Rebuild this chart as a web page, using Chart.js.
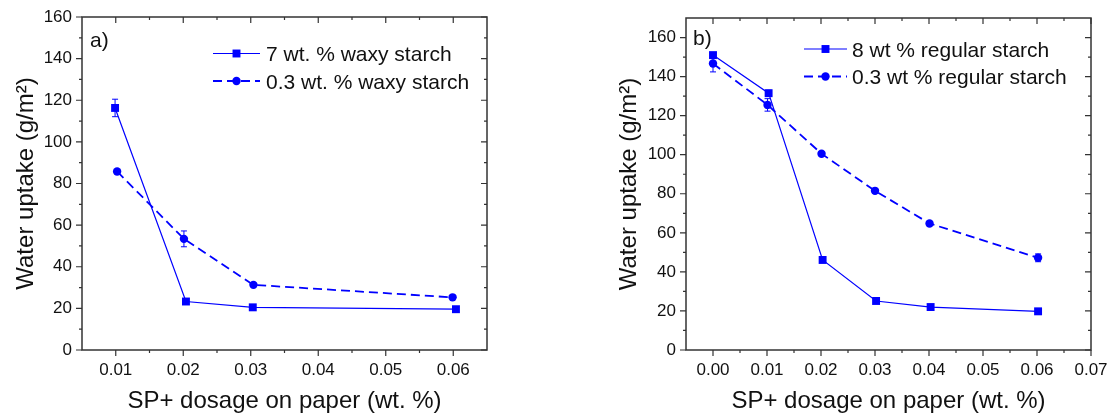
<!DOCTYPE html>
<html>
<head>
<meta charset="utf-8">
<title>Water uptake vs SP+ dosage</title>
<script src="https://cdn.jsdelivr.net/npm/chart.js@4.4.1/dist/chart.umd.min.js"></script>
<style>
    html, body { margin: 0; padding: 0; background: #fff; overflow: hidden; }
    #wrap { position: relative; width: 1109px; height: 416px; }
    .panel { position: absolute; top: 0; height: 416px; }
    #boxA { left: 0; width: 555px; }
    #boxB { left: 555px; width: 554px; }
</style>
</head>
<body>
<div id="wrap">
    <div class="panel" id="boxA"><canvas id="chartA"></canvas></div>
    <div class="panel" id="boxB"><canvas id="chartB"></canvas></div>
</div>
<script>
// panel a) waxy starch
const waxyDosageHigh = [0.0099, 0.0204, 0.0303, 0.0604];
const waxyUptakeHigh = [116.3, 23.3, 20.5, 19.6];
const waxyErrHigh = [4.2, 0.8, 0.6, 0.6];
const waxyDosageLow = [0.0102, 0.0201, 0.0304, 0.0599];
const waxyUptakeLow = [85.8, 53.4, 31.3, 25.3];
const waxyErrLow = [1.0, 3.8, 0.8, 0.8];

// panel b) regular starch
const regDosageHigh = [0.0, 0.0103, 0.0203, 0.0302, 0.0403, 0.0602];
const regUptakeHigh = [151.0, 131.5, 46.1, 25.1, 22.0, 19.8];
const regErrHigh = [1.0, 1.5, 0.8, 0.6, 0.6, 0.6];
const regDosageLow = [0.0, 0.0101, 0.0201, 0.0300, 0.0401, 0.0602];
const regUptakeLow = [146.7, 125.5, 100.5, 81.5, 64.8, 47.2];
const regErrLow = [4.3, 3.2, 1.0, 1.0, 1.0, 2.0];

// tick labels
const xTicksA = [0.01, 0.02, 0.03, 0.04, 0.05, 0.06];
const xTicksB = [0.00, 0.01, 0.02, 0.03, 0.04, 0.05, 0.06, 0.07];
const yTicks = [0, 20, 40, 60, 80, 100, 120, 140, 160];

const FONT = "'Liberation Sans', Arial, Helvetica, sans-serif";
const BLUE = '#0000ff';
const INK = '#111111';
const AXIS = '#333333';

Chart.defaults.font.family = FONT;
Chart.defaults.color = INK;

const toPoints = (xs, ys) => xs.map((x, i) => ({ x, y: ys[i] }));

const minorValues = (majors, min, max) => {
    const step = majors[1] - majors[0];
    const out = [];
    for (let v = majors[0] - step / 2; v <= majors[majors.length - 1] + step / 2 + 1e-9; v += step) {
        if (v > min + 1e-9 && v < max - 1e-9) out.push(v);
    }
    return out;
};

// error bars under the markers
const errorBarPlugin = {
    id: 'errorBars',
    beforeDatasetsDraw(chart) {
        const { ctx, scales: { x, y } } = chart;
        chart.data.datasets.forEach((ds) => {
            if (!ds.errors) return;
            ctx.save();
            ctx.strokeStyle = ds.borderColor;
            ctx.lineWidth = 1;
            ds.data.forEach((p, j) => {
                const e = ds.errors[j];
                if (!e) return;
                const px = x.getPixelForValue(p.x);
                const top = y.getPixelForValue(p.y + e);
                const bot = y.getPixelForValue(p.y - e);
                ctx.beginPath();
                ctx.moveTo(px, top); ctx.lineTo(px, bot);
                ctx.moveTo(px - 3, top); ctx.lineTo(px + 3, top);
                ctx.moveTo(px - 3, bot); ctx.lineTo(px + 3, bot);
                ctx.stroke();
            });
            ctx.restore();
        });
    },
};

// box frame with Origin-style ticks (out on bottom/left, in on top/right)
const framePlugin = {
    id: 'originFrame',
    afterDraw(chart) {
        const { ctx, chartArea: a, scales: { x, y } } = chart;
        ctx.save();
        ctx.strokeStyle = AXIS;
        ctx.lineWidth = 1.2;
        const xMaj = x.ticks.map((t) => t.value);
        const yMaj = y.ticks.map((t) => t.value);
        const xMin = minorValues(xMaj, x.min, x.max);
        const yMin = minorValues(yMaj, y.min, y.max);
        ctx.beginPath();
        const tickX = (vals, len) => vals.forEach((v) => {
            const px = x.getPixelForValue(v);
            ctx.moveTo(px, a.bottom); ctx.lineTo(px, a.bottom + len);
            ctx.moveTo(px, a.top); ctx.lineTo(px, a.top + len);
        });
        const tickY = (vals, len) => vals.forEach((v) => {
            const py = y.getPixelForValue(v);
            ctx.moveTo(a.left, py); ctx.lineTo(a.left - len, py);
            ctx.moveTo(a.right, py); ctx.lineTo(a.right - len, py);
        });
        tickX(xMaj, 6); tickX(xMin, 3);
        tickY(yMaj, 6); tickY(yMin, 3);
        ctx.stroke();
        ctx.lineWidth = 1.5;
        ctx.strokeRect(a.left, a.top, a.right - a.left, a.bottom - a.top);
        ctx.restore();
    },
};

// legend with line + marker, and panel letter
const legendPlugin = {
    id: 'lineLegend',
    afterDraw(chart, args, opts) {
        const { ctx, chartArea: a } = chart;
        ctx.save();
        ctx.font = `21px ${FONT}`;
        ctx.fillStyle = INK;
        ctx.textBaseline = 'alphabetic';
        ctx.fillText(opts.panel, a.left + opts.panelX, a.top + opts.panelY);
        chart.data.datasets.forEach((ds, i) => {
            const cy = a.top + opts.y + i * opts.rowGap;
            const x0 = a.left + opts.lineX0;
            const x1 = a.left + opts.lineX1;
            ctx.strokeStyle = ds.borderColor;
            ctx.lineWidth = ds.borderWidth;
            ctx.setLineDash(ds.borderDash || []);
            ctx.beginPath();
            ctx.moveTo(x0, cy); ctx.lineTo(x1, cy);
            ctx.stroke();
            ctx.setLineDash([]);
            const mx = (x0 + x1) / 2;
            ctx.fillStyle = ds.pointBackgroundColor;
            ctx.beginPath();
            if (ds.pointStyle === 'rect') {
                const s = Math.SQRT1_2 * ds.pointRadius;
                ctx.rect(mx - s, cy - s, 2 * s, 2 * s);
            } else {
                ctx.arc(mx, cy, ds.pointRadius, 0, Math.PI * 2);
            }
            ctx.fill();
            ctx.fillStyle = INK;
            ctx.fillText(ds.label, a.left + opts.textX, cy + 7.5);
        });
        ctx.restore();
    },
};

const solidSet = (label, xs, ys, errs) => ({
    label,
    data: toPoints(xs, ys),
    errors: errs,
    borderColor: BLUE,
    borderWidth: 1.2,
    pointStyle: 'rect',
    pointRadius: 5.6,
    pointBackgroundColor: BLUE,
    pointBorderWidth: 0,
    tension: 0,
});

const dashedSet = (label, xs, ys, errs) => ({
    label,
    data: toPoints(xs, ys),
    errors: errs,
    borderColor: BLUE,
    borderWidth: 1.8,
    borderDash: [9, 5],
    pointStyle: 'circle',
    pointRadius: 4.2,
    pointBackgroundColor: BLUE,
    pointBorderWidth: 0,
    tension: 0,
});

const buildOptions = ({ xMin, xMax, yMax, xTicks, yWidth, yTitlePad, padding, legend }) => ({
    responsive: true,
    maintainAspectRatio: false,
    animation: false,
    layout: { padding },
    plugins: {
        legend: { display: false },
        tooltip: { enabled: false },
        lineLegend: legend,
    },
    scales: {
        x: {
            type: 'linear',
            min: xMin,
            max: xMax,
            afterBuildTicks: (s) => { s.ticks = xTicks.map((v) => ({ value: v })); },
            afterFit: (s) => { s.height = 66; s.paddingLeft = 0; s.paddingRight = 0; },
            grid: { display: false, drawTicks: false },
            border: { display: false },
            ticks: {
                color: INK,
                font: { size: 17 },
                padding: 10,
                maxRotation: 0,
                autoSkip: false,
                callback: (v) => Number(v).toFixed(2),
            },
            title: {
                display: true,
                text: 'SP+ dosage on paper (wt. %)',
                color: INK,
                font: { size: 24 },
                padding: { top: 0, bottom: 0 },
            },
        },
        y: {
            type: 'linear',
            min: 0,
            max: yMax,
            afterBuildTicks: (s) => { s.ticks = yTicks.map((v) => ({ value: v })); },
            afterFit: (s) => { s.width = yWidth; s.paddingTop = 0; s.paddingBottom = 0; },
            grid: { display: false, drawTicks: false },
            border: { display: false },
            ticks: {
                color: INK,
                font: { size: 17 },
                padding: 10,
            },
            title: {
                display: true,
                text: 'Water uptake (g/m²)',
                color: INK,
                font: { size: 24 },
                padding: { top: yTitlePad, bottom: 0 },
            },
        },
    },
});

new Chart(document.getElementById('chartA'), {
    type: 'line',
    data: {
        datasets: [
            solidSet('7 wt. % waxy starch', waxyDosageHigh, waxyUptakeHigh, waxyErrHigh),
            dashedSet('0.3 wt. % waxy starch', waxyDosageLow, waxyUptakeLow, waxyErrLow),
        ],
    },
    options: buildOptions({
        xMin: 0.005, xMax: 0.065, yMax: 160, xTicks: xTicksA,
        yWidth: 82, yTitlePad: 12,
        padding: { top: 17, right: 68, bottom: 0, left: 0 },
        legend: { panel: 'a)', panelX: 8, panelY: 30, y: 36.5, rowGap: 27.5, lineX0: 131, lineX1: 178, textX: 184 },
    }),
    plugins: [errorBarPlugin, framePlugin, legendPlugin],
});

new Chart(document.getElementById('chartB'), {
    type: 'line',
    data: {
        datasets: [
            solidSet('8 wt % regular starch', regDosageHigh, regUptakeHigh, regErrHigh),
            dashedSet('0.3 wt % regular starch', regDosageLow, regUptakeLow, regErrLow),
        ],
    },
    options: buildOptions({
        xMin: -0.005, xMax: 0.07, yMax: 170, xTicks: xTicksB,
        yWidth: 131, yTitlePad: 60,
        padding: { top: 18, right: 18, bottom: 0, left: 0 },
        legend: { panel: 'b)', panelX: 7, panelY: 27, y: 31, rowGap: 27.5, lineX0: 118, lineX1: 161, textX: 166 },
    }),
    plugins: [errorBarPlugin, framePlugin, legendPlugin],
});
</script>
</body>
</html>
